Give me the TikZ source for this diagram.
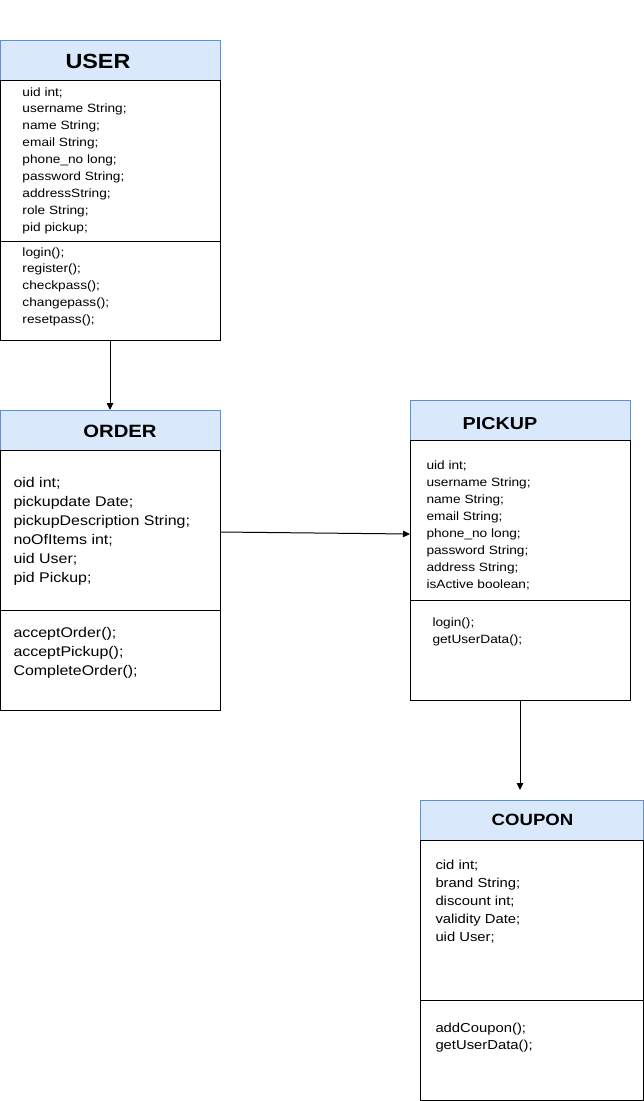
\documentclass[tikz,border=0pt]{standalone}
\usepackage{fontspec}
\setmainfont{Liberation Sans}[FakeStretch=1.14]
\usetikzlibrary{arrows.meta}
\definecolor{hdrfill}{HTML}{DAE8FC}
\definecolor{hdrline}{HTML}{6C8EBF}

\begin{document}
\begin{tikzpicture}[x=1pt, y=-1pt, line width=1pt,
  header/.style={draw=hdrline, fill=hdrfill, anchor=north west,
    inner sep=0pt, outer sep=0pt, minimum height=40pt},
  compart/.style={draw=black, fill=white, anchor=north west,
    inner sep=0pt, outer sep=0pt},
  title/.style={anchor=base, inner sep=0pt, font=\bfseries\fontsize{#1}{#1}\selectfont},
  % member lists are placed by the baseline of their last line
  members/.style={anchor=base west, inner sep=0pt, align=left},
  link/.style={draw=black, line width=1pt, -{Triangle[length=7pt,width=6.5pt]}}]

\useasboundingbox (0,0) rectangle (644,1101);

% ---------- USER ----------
\node[header, minimum width=220pt] (user-head) at (0,40) {};
\node[compart, minimum width=220pt, minimum height=161pt] (user-attr) at (0,80) {};
\node[compart, minimum width=220pt, minimum height=99pt] (user-meth) at (0,241) {};
\node[title=20.5] (user-title) at (98,68) {USER};
\node[members, font=\fontsize{12}{16.9}\selectfont] (user-attr-text) at (22,231.2)
  {uid int;\\ username String;\\ name String;\\ email String;\\ phone\_no long;\\
   password String;\\ addressString;\\ role String;\\ pid pickup;};
\node[members, font=\fontsize{12}{16.9}\selectfont] (user-meth-text) at (22,323.6)
  {login();\\ register();\\ checkpass();\\ changepass();\\ resetpass();};

% ---------- ORDER ----------
\node[header, minimum width=220pt] (order-head) at (0,410) {};
\node[compart, minimum width=220pt, minimum height=160pt] (order-attr) at (0,450) {};
\node[compart, minimum width=220pt, minimum height=100pt] (order-meth) at (0,610) {};
\node[title=17.8] (order-title) at (120,437) {ORDER};
\node[members, font=\fontsize{14}{19}\selectfont] (order-attr-text) at (13,582)
  {oid int;\\ pickupdate Date;\\ pickupDescription String;\\ noOfItems int;\\
   uid User;\\ pid Pickup;};
\node[members, font=\fontsize{14}{19}\selectfont] (order-meth-text) at (13,675)
  {acceptOrder();\\ acceptPickup();\\ CompleteOrder();};

% ---------- PICKUP ----------
\node[header, minimum width=220pt] (pickup-head) at (410,400) {};
\node[compart, minimum width=220pt, minimum height=160pt] (pickup-attr) at (410,440) {};
\node[compart, minimum width=220pt, minimum height=100pt] (pickup-meth) at (410,600) {};
\node[title=17.3] (pickup-title) at (500,429) {PICKUP};
\node[members, font=\fontsize{12}{17}\selectfont] (pickup-attr-text) at (426,588.5)
  {uid int;\\ username String;\\ name String;\\ email String;\\ phone\_no long;\\
   password String;\\ address String;\\ isActive boolean;};
\node[members, font=\fontsize{12}{17.3}\selectfont] (pickup-meth-text) at (432,643.3)
  {login();\\ getUserData();};

% ---------- COUPON ----------
\node[header, minimum width=223pt] (coupon-head) at (420,800) {};
\node[compart, minimum width=223pt, minimum height=160pt] (coupon-attr) at (420,840) {};
\node[compart, minimum width=223pt, minimum height=100pt] (coupon-meth) at (420,1000) {};
\node[title=16.3] (coupon-title) at (532.5,825.5) {COUPON};
\node[members, font=\fontsize{13}{18}\selectfont] (coupon-attr-text) at (435,941)
  {cid int;\\ brand String;\\ discount int;\\ validity Date;\\ uid User;};
\node[members, font=\fontsize{13}{17.5}\selectfont] (coupon-meth-text) at (435,1049.5)
  {addCoupon();\\ getUserData();};

% ---------- associations ----------
\coordinate (coupon-in) at (pickup-meth.south |- 0,790);
\draw[link] (user-meth.south) -- (order-head.north);
\draw[link] ([yshift=-2pt]order-attr.east) -- ([yshift=-14pt]pickup-attr.west);
\draw[link] (pickup-meth.south) -- (coupon-in);
\end{tikzpicture}
\end{document}
